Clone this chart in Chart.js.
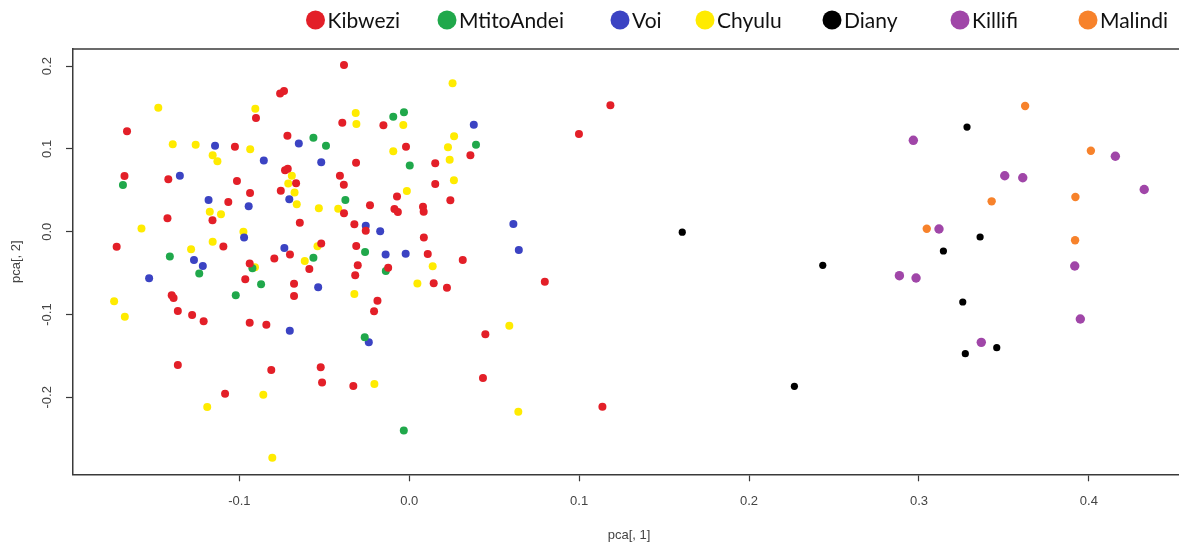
<!DOCTYPE html>
<html>
<head>
<meta charset="utf-8">
<script src="https://cdn.jsdelivr.net/npm/chart.js@4.4.1/dist/chart.umd.min.js"></script>
<style>
  html, body { margin: 0; padding: 0; background: #ffffff; overflow: hidden; }
  canvas { display: block; }
</style>
</head>
<body>
<canvas id="pcaChart" width="1200" height="546"></canvas>
<script>
// PCA scores, first two components, one array per sampling site: [pca1, pca2]
const kibwezi = [
  [-0.0384, 0.2013], [-0.0760, 0.1669], [-0.0737, 0.1699], [-0.0902, 0.1373], [-0.1661, 0.1213],
  [-0.0394, 0.1316], [-0.0152, 0.1286], [-0.1026, 0.1027], [-0.0717, 0.1159], [-0.0313, 0.0833],
  [-0.0019, 0.1027], [0.0153, 0.0826], [0.0360, 0.0923], [-0.1676, 0.0673], [-0.1418, 0.0633],
  [-0.1014, 0.0612], [-0.0937, 0.0467], [-0.0756, 0.0494], [-0.1065, 0.0359], [-0.1158, 0.0139],
  [-0.1423, 0.0162], [-0.0731, 0.0742], [-0.0715, 0.0761], [-0.0666, 0.0585], [-0.0408, 0.0676],
  [-0.0385, 0.0568], [-0.0384, 0.0223], [-0.0231, 0.0319], [-0.0072, 0.0425], [-0.0087, 0.0274],
  [-0.0067, 0.0238], [0.0081, 0.0302], [0.0085, 0.0240], [0.0153, 0.0576], [0.0242, 0.0379],
  [-0.0644, 0.0107], [-0.0323, 0.0091], [-0.0256, 0.0012], [0.0086, -0.0070], [-0.1722, -0.0182],
  [-0.1094, -0.0179], [-0.0939, -0.0384], [-0.0794, -0.0324], [-0.0965, -0.0575], [-0.1398, -0.0768],
  [-0.1387, -0.0801], [-0.1362, -0.0958], [-0.1278, -0.1006], [-0.1210, -0.1081], [-0.0939, -0.1099],
  [-0.0841, -0.1123], [-0.1362, -0.1610], [-0.0812, -0.1670], [-0.1084, -0.1958], [-0.0702, -0.0275],
  [-0.0518, -0.0143], [-0.0588, -0.0450], [-0.0312, -0.0173], [-0.0303, -0.0406], [-0.0318, -0.0527],
  [0.0109, -0.0269], [-0.0124, -0.0435], [0.0144, -0.0623], [0.0222, -0.0676], [-0.0678, -0.0628],
  [-0.0678, -0.0777], [-0.0187, -0.0833], [-0.0207, -0.0961], [-0.0521, -0.1638], [-0.0513, -0.1821],
  [-0.0329, -0.1864], [0.0315, -0.0342], [0.0798, -0.0604], [0.0448, -0.1239], [0.0434, -0.1767],
  [0.1137, -0.2114], [0.1184, 0.1527], [0.0999, 0.1180]
];
const mtitoAndei = [
  [-0.1685, 0.0564], [-0.0564, 0.1135], [-0.0490, 0.1039], [-0.0094, 0.1388], [-0.0031, 0.1442],
  [0.0003, 0.0800], [0.0393, 0.1051], [-0.0376, 0.0383], [-0.1409, -0.0300], [-0.1236, -0.0505],
  [-0.0923, -0.0442], [-0.0872, -0.0634], [-0.1021, -0.0768], [-0.0564, -0.0315], [-0.0260, -0.0245],
  [-0.0138, -0.0475], [-0.0262, -0.1275], [-0.0032, -0.2401]
];
const voi = [
  [-0.1143, 0.1039], [-0.0856, 0.0860], [-0.1350, 0.0676], [-0.1181, 0.0383], [-0.0945, 0.0308],
  [-0.0972, -0.0070], [-0.0650, 0.1065], [-0.0518, 0.0838], [-0.0706, 0.0391], [-0.0256, 0.0072],
  [-0.0171, 0.0005], [0.0380, 0.1292], [0.0613, 0.0093], [0.0645, -0.0221], [-0.1267, -0.0342],
  [-0.1215, -0.0414], [-0.1531, -0.0563], [-0.0735, -0.0197], [-0.0536, -0.0671], [-0.0139, -0.0275],
  [-0.0021, -0.0266], [-0.0703, -0.1196], [-0.0238, -0.1336]
];
const chyulu = [
  [-0.1477, 0.1498], [-0.0906, 0.1484], [-0.1392, 0.1056], [-0.1257, 0.1051], [-0.0936, 0.0995],
  [-0.1157, 0.0923], [-0.1129, 0.0850], [-0.1174, 0.0240], [-0.1108, 0.0210], [-0.1576, 0.0039],
  [-0.0976, -0.0001], [-0.1157, -0.0122], [-0.0315, 0.1434], [-0.0311, 0.1301], [-0.0035, 0.1289],
  [0.0255, 0.1793], [-0.0094, 0.0972], [0.0264, 0.1152], [0.0228, 0.1021], [0.0238, 0.0870],
  [0.0263, 0.0621], [-0.0691, 0.0675], [-0.0712, 0.0582], [-0.0675, 0.0473], [-0.0662, 0.0331],
  [-0.0532, 0.0284], [-0.0418, 0.0277], [-0.0014, 0.0492], [-0.0540, -0.0175], [-0.1284, -0.0213],
  [-0.0908, -0.0430], [-0.0615, -0.0354], [-0.1737, -0.0841], [-0.1674, -0.1028], [-0.0323, -0.0752],
  [0.0138, -0.0417], [0.0048, -0.0626], [0.0589, -0.1135], [-0.0205, -0.1839], [-0.0859, -0.1969],
  [-0.1189, -0.2117], [-0.0806, -0.2731], [0.0642, -0.2174]
];
const diany = [
  [0.1607, -0.0006], [0.2434, -0.0406], [0.2267, -0.1867], [0.3283, 0.1264], [0.3360, -0.0064],
  [0.3144, -0.0233], [0.3258, -0.0849], [0.3458, -0.1401], [0.3273, -0.1473]
];
const killifi = [
  [0.2967, 0.1104], [0.4156, 0.0912], [0.3505, 0.0676], [0.3611, 0.0652], [0.4326, 0.0510],
  [0.3118, 0.0033], [0.2885, -0.0531], [0.2983, -0.0559], [0.3917, -0.0414], [0.3950, -0.1054],
  [0.3367, -0.1336]
];
const malindi = [
  [0.3625, 0.1518], [0.4012, 0.0978], [0.3428, 0.0367], [0.3921, 0.0419], [0.3046, 0.0036],
  [0.3919, -0.0103]
];

const siteNames = ['Kibwezi', 'MtitoAndei', 'Voi', 'Chyulu', 'Diany', 'Killifi', 'Malindi'];
const siteScores = [kibwezi, mtitoAndei, voi, chyulu, diany, killifi, malindi];
const siteColors = ['#e31f28', '#20a84b', '#3b43c3', '#ffeb00', '#000000', '#a046a8', '#f7822b'];
const siteRadius = [4, 4, 4, 4, 3.6, 4.7, 4.2];

const xTicks = [-0.1, 0.0, 0.1, 0.2, 0.3, 0.4];
const yTicks = [-0.2, -0.1, 0.0, 0.1, 0.2];

// legend marker centres along the top strip
const legendCx = [315.5, 447, 620, 705, 832, 960, 1088];

const datasets = siteNames.map((name, i) => ({
  label: name,
  data: siteScores[i].map(p => ({ x: p[0], y: p[1] })),
  backgroundColor: siteColors[i],
  borderColor: siteColors[i],
  borderWidth: 0,
  pointRadius: siteRadius[i],
  pointHoverRadius: siteRadius[i]
}));

const axisGray = '#3a3a3a';
const labelGray = '#444444';
const tickFont = { family: '"Liberation Sans", Arial, sans-serif', size: 13 };

// top edge of the plot frame
const frameTop = {
  id: 'frameTop',
  afterDraw(chart) {
    const { ctx, chartArea } = chart;
    ctx.save();
    ctx.strokeStyle = axisGray;
    ctx.lineWidth = 1.5;
    ctx.beginPath();
    ctx.moveTo(chartArea.left, chartArea.top);
    ctx.lineTo(chartArea.right, chartArea.top);
    ctx.stroke();
    ctx.restore();
  }
};

// single-row legend with large round keys
const siteLegend = {
  id: 'siteLegend',
  afterDraw(chart) {
    const { ctx } = chart;
    ctx.save();
    ctx.font = '21px Lato, "Open Sans", sans-serif';
    ctx.textBaseline = 'middle';
    ctx.textAlign = 'left';
    chart.data.datasets.forEach((ds, i) => {
      const cx = legendCx[i];
      ctx.fillStyle = ds.backgroundColor;
      ctx.beginPath();
      ctx.arc(cx, 20, 9.5, 0, Math.PI * 2);
      ctx.fill();
      ctx.fillStyle = '#111111';
      ctx.fillText(ds.label, cx + 12, 21);
    });
    ctx.restore();
  }
};

new Chart(document.getElementById('pcaChart'), {
  type: 'scatter',
  data: { datasets },
  options: {
    responsive: false,
    animation: false,
    devicePixelRatio: 1,
    layout: { padding: { top: 49, right: 15, left: 0, bottom: 0 } },
    plugins: {
      legend: { display: false },
      tooltip: { enabled: false }
    },
    scales: {
      x: {
        type: 'linear',
        min: -0.1979,
        max: 0.4566,
        afterBuildTicks(scale) { scale.ticks = xTicks.map(v => ({ value: v })); },
        afterFit(scale) { scale.height = 71.7; },
        grid: { drawOnChartArea: false, drawTicks: true, tickLength: 7, tickColor: axisGray, tickWidth: 1.2 },
        border: { display: true, color: axisGray, width: 1.5 },
        ticks: {
          color: labelGray,
          font: tickFont,
          padding: 12,
          maxRotation: 0,
          autoSkip: false,
          callback: v => Number(v).toFixed(1)
        },
        title: {
          display: true,
          text: 'pca[, 1]',
          color: labelGray,
          font: tickFont,
          padding: { top: 0, bottom: 3 }
        }
      },
      y: {
        type: 'linear',
        min: -0.293,
        max: 0.2207,
        afterBuildTicks(scale) { scale.ticks = yTicks.map(v => ({ value: v })); },
        afterFit(scale) { scale.width = 73; },
        grid: { drawOnChartArea: false, drawTicks: true, tickLength: 7, tickColor: axisGray, tickWidth: 1.2 },
        border: { display: true, color: axisGray, width: 1.5 },
        ticks: {
          color: labelGray,
          font: tickFont,
          padding: 7,
          minRotation: 90,
          maxRotation: 90,
          crossAlign: 'center',
          autoSkip: false,
          callback: v => Number(v).toFixed(1)
        },
        title: {
          display: true,
          text: 'pca[, 2]',
          color: labelGray,
          font: tickFont,
          padding: { top: 9, bottom: 0 }
        }
      }
    }
  },
  plugins: [frameTop, siteLegend]
});
</script>
</body>
</html>
